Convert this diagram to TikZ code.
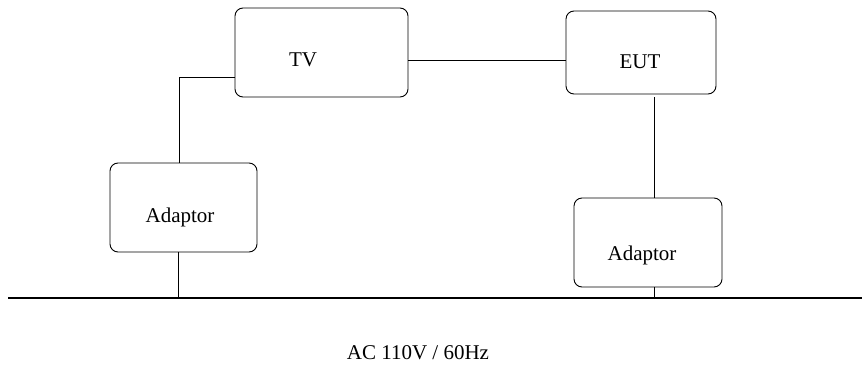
\documentclass[tikz,border=0pt]{standalone}
\usepackage{fontspec}
\setmainfont{Liberation Serif}
\begin{document}
\begin{tikzpicture}[x=1pt,y=-1pt,
  box/.style={draw,rounded corners=8pt,line width=0.9pt},
  lbl/.style={font=\fontsize{21}{24}\selectfont,inner sep=0pt},
  wire/.style={line width=0.9pt}]
\useasboundingbox (0,0) rectangle (862,367);
\draw[box] (235,8) rectangle (408,97);
\coordinate (tvW) at (235,77);
\coordinate (tvE) at (408,60);
\node[lbl] (tv) at (303,60) {TV};
\draw[box] (566,11) rectangle (716,94);
\coordinate (eutW) at (566,60);
\coordinate (eutS) at (654,97);
\node[lbl] (eut) at (640,62) {EUT};
\draw[box] (110,163) rectangle (257,252);
\coordinate (laN) at (179,163);
\coordinate (laS) at (178,252);
\node[lbl] (la) at (180,217) {Adaptor};
\draw[box] (574,198) rectangle (722,287);
\coordinate (raN) at (654,198);
\coordinate (raS) at (654,287);
\node[lbl] (ra) at (642,255) {Adaptor};
\coordinate (gL) at (8,298);
\coordinate (gR) at (862,298);
\draw[line width=1.8pt] (gL) -- (gR);
\draw[wire] (tvE) -- (eutW);
\draw[wire] (tvW) -- (179,77) -- (laN);
\draw[wire] (eutS) -- (raN);
\draw[wire] (laS) -- (178,298);
\draw[wire] (raS) -- (654,298);
\node[lbl] (ac) at (418,353) {AC 110V / 60Hz};
\end{tikzpicture}
\end{document}
